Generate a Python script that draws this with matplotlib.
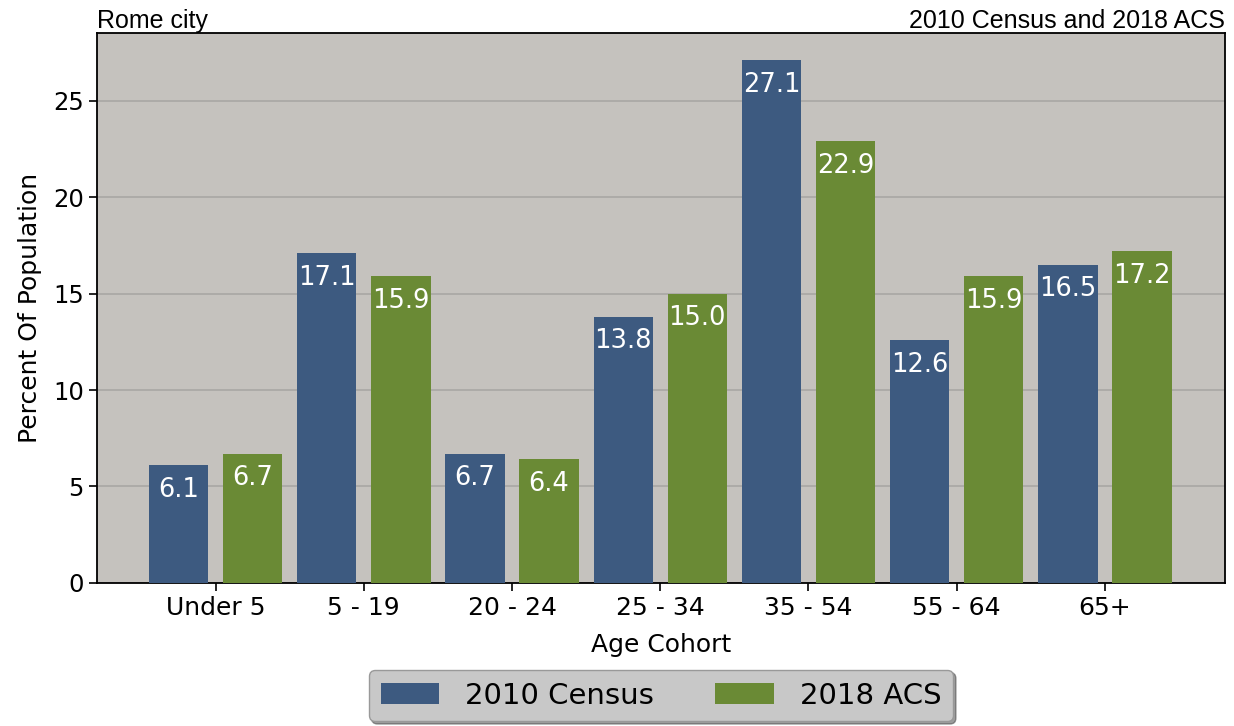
import numpy as np
import matplotlib
matplotlib.use("Agg")
import matplotlib.pyplot as plt

cohorts = ["Under 5", "5 - 19", "20 - 24", "25 - 34", "35 - 54", "55 - 64", "65+"]
census_2010 = [6.1, 17.1, 6.7, 13.8, 27.1, 12.6, 16.5]
acs_2018 = [6.7, 15.9, 6.4, 15.0, 22.9, 15.9, 17.2]

blue = "#3d5a80"
green = "#6a8a35"

fig = plt.figure(figsize=(12.34, 7.26), dpi=100)
ax = fig.add_axes([0.0786, 0.197, 0.9141, 0.7575])
ax.set_facecolor("#c5c2be")

x = np.arange(len(cohorts))
w = 0.4
b1 = ax.bar(x - 0.25, census_2010, w, color=blue, label="2010 Census", zorder=3)
b2 = ax.bar(x + 0.25, acs_2018, w, color=green, label="2018 ACS", zorder=3)

for bars, vals in [(b1, census_2010), (b2, acs_2018)]:
    for r, v in zip(bars, vals):
        ax.annotate(f"{v:.1f}", (r.get_x() + r.get_width() / 2, v),
                    xytext=(0, -8.5), textcoords="offset points",
                    ha="center", va="top", color="white", fontsize=18.5, zorder=4)

ax.set_xlim(-0.8, 6.81)
ax.set_ylim(0, 28.5)
ax.set_yticks([0, 5, 10, 15, 20, 25])
ax.set_xticks(x)
ax.set_xticklabels(cohorts)
ax.tick_params(axis="x", labelsize=18, length=6, width=1.2)
ax.tick_params(axis="y", labelsize=17.5, length=6, width=1.2)
ax.yaxis.grid(True, color="#a9a7a4", linewidth=1.2, zorder=0)
ax.set_axisbelow(True)
for s in ax.spines.values():
    s.set_linewidth(1.3)

ax.set_xlabel("Age Cohort", fontsize=18, labelpad=9)
ax.set_ylabel("Percent Of Population", fontsize=18, labelpad=8)
ax.set_title("Rome city", loc="left", fontsize=18, family="Liberation Sans", pad=2)
ax.set_title("2010 Census and 2018 ACS", loc="right", fontsize=18, family="Liberation Sans", pad=2)

leg = ax.legend(loc="upper center", bbox_to_anchor=(0.5, -0.158), ncol=2,
                fontsize=21, shadow=True, facecolor="#c8c8c8", edgecolor="#999999",
                framealpha=1, fancybox=True, borderaxespad=0,
                handlelength=2.0, handletextpad=0.9, columnspacing=2.1)

fig.savefig("out.png", dpi=100)
